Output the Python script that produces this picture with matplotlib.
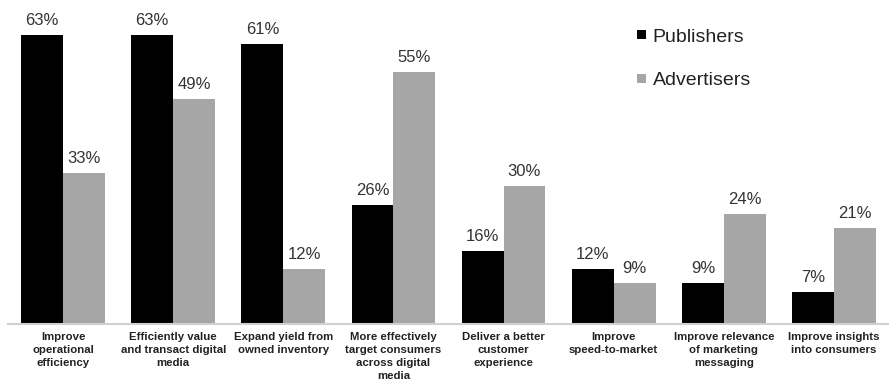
import matplotlib.pyplot as plt
import numpy as np

plt.rcParams['font.family'] = ['Liberation Sans', 'DejaVu Sans']

# Categories and values (percent of respondents)
categories = [
    "Improve\noperational\nefficiency",
    "Efficiently value\nand transact digital\nmedia",
    "Expand yield from\nowned inventory",
    "More effectively\ntarget consumers\nacross digital\nmedia",
    "Deliver a better\ncustomer\nexperience",
    "Improve\nspeed-to-market",
    "Improve relevance\nof marketing\nmessaging",
    "Improve insights\ninto consumers",
]
publishers = [63, 63, 61, 26, 16, 12, 9, 7]
advertisers = [33, 49, 12, 55, 30, 9, 24, 21]

fig = plt.figure(figsize=(8.89, 3.83), dpi=100)
ax = fig.add_axes([0.009, 0.154, 0.991, 0.846])

x = np.arange(len(categories))
w = 0.38
b1 = ax.bar(x - w / 2, publishers, w, color='black', label='Publishers')
b2 = ax.bar(x + w / 2, advertisers, w, color='#a6a6a6', label='Advertisers')

# Value labels above each bar
for bars in (b1, b2):
    for rect in bars:
        h = rect.get_height()
        ax.annotate(f"{h:.0f}%", (rect.get_x() + rect.get_width() / 2, h),
                    xytext=(0, 5), textcoords='offset points',
                    ha='center', va='bottom', fontsize=12, color='#333333')

ax.set_xlim(-0.5, len(categories) - 0.5)
ax.set_ylim(0, 70.6)
ax.set_xticks(x)
ax.set_xticklabels(categories, fontsize=8.2, fontweight='bold', color='#222222',
                   linespacing=1.35)
ax.tick_params(axis='x', length=0, pad=6)
ax.set_yticks([])

for side in ('top', 'right', 'left'):
    ax.spines[side].set_visible(False)
ax.spines['bottom'].set_color('#d0d0d0')
ax.spines['bottom'].set_linewidth(1.5)

ax.legend(loc='upper left', bbox_to_anchor=(0.694, 0.965), frameon=False,
          fontsize=14, handlelength=0.45, handleheight=0.35, handletextpad=0.35,
          labelspacing=1.35, labelcolor='#222222')

plt.savefig('out.png', dpi=100)
